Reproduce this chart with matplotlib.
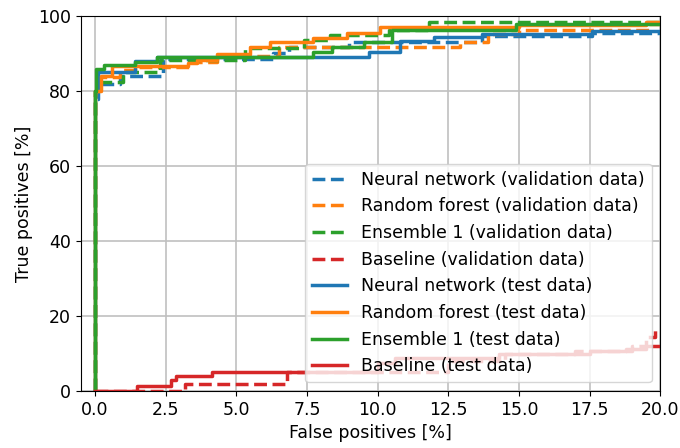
import numpy as np
import matplotlib
matplotlib.use("Agg")
import matplotlib.pyplot as plt

# ROC step curves (FPR %, TPR %), drawn as post-steps
nn_val_fpr = [0, 0, 0.1, 0.9, 2.4, 6.3, 6.85, 9.0, 13.7, 17.6, 20]
nn_val_tpr = [0, 78, 82, 84, 88.5, 90.2, 91.7, 93.2, 94.8, 95.4, 95.4]
rf_val_fpr = [0, 0, 0.15, 0.9, 1.4, 3.4, 4.3, 6.5, 12.9, 13.9, 15.0, 19.6, 20]
rf_val_tpr = [0, 80, 83.7, 85.6, 86.5, 87.8, 89.5, 91.8, 93.1, 95.3, 96.4, 98, 98]
ens_val_fpr = [0, 0, 0.1, 1.0, 2.3, 5.3, 7.4, 8.3, 10.4, 11.8, 20]
ens_val_tpr = [0, 80, 82.5, 85.2, 88.3, 91.6, 93.6, 95.1, 96.3, 98.5, 98.5]
base_val_fpr = [0, 3.2, 6.8, 12.5, 14.5, 17.0, 19.0, 19.5, 19.8, 20]
base_val_tpr = [0, 1.8, 5.1, 8.0, 9.8, 10.8, 12.0, 14.5, 16.3, 16.3]

nn_test_fpr = [0, 0, 0.1, 1.4, 2.2, 9.7, 10.8, 12.0, 13.7, 17.6, 20]
nn_test_tpr = [0, 80, 85, 88, 89.2, 90.5, 93.3, 94.5, 95.2, 96, 96]
rf_test_fpr = [0, 0, 0.2, 0.6, 3.3, 3.6, 4.3, 5.5, 6.2, 7.7, 8.9, 10.1, 15.0, 19.5, 20]
rf_test_tpr = [0, 80, 84, 86.7, 87.5, 88.3, 90, 91.8, 93.1, 94.3, 95.6, 97.2, 97.7, 98.5, 98.5]
ens_test_fpr = [0, 0, 0.05, 0.3, 1.4, 2.2, 7.7, 8.4, 9.5, 10.5, 14.9, 20]
ens_test_tpr = [0, 80, 86, 87, 87.9, 89.1, 90.5, 91.8, 93.1, 96.3, 97.9, 97.9]
base_test_fpr = [0, 1.5, 2.7, 2.85, 4.15, 10.0, 10.6, 14.3, 17.5, 18.8, 19.5, 20]
base_test_tpr = [0, 1.3, 2.9, 4.1, 5.2, 7.5, 8.8, 10.0, 10.7, 11.3, 12.0, 12.0]

curves = [
    (nn_val_fpr, nn_val_tpr, 'C0', '--', 'Neural network (validation data)'),
    (rf_val_fpr, rf_val_tpr, 'C1', '--', 'Random forest (validation data)'),
    (ens_val_fpr, ens_val_tpr, 'C2', '--', 'Ensemble 1 (validation data)'),
    (base_val_fpr, base_val_tpr, 'C3', '--', 'Baseline (validation data)'),
    (nn_test_fpr, nn_test_tpr, 'C0', '-', 'Neural network (test data)'),
    (rf_test_fpr, rf_test_tpr, 'C1', '-', 'Random forest (test data)'),
    (ens_test_fpr, ens_test_tpr, 'C2', '-', 'Ensemble 1 (test data)'),
    (base_test_fpr, base_test_tpr, 'C3', '-', 'Baseline (test data)'),
]

plt.rcParams['font.size'] = 12.5

fig, ax = plt.subplots(figsize=(6.8, 4.48), dpi=100)
fig.subplots_adjust(left=0.119, right=0.971, top=0.964, bottom=0.127)

for fpr, tpr, col, ls, lab in curves:
    ax.step(fpr, tpr, where='post', color=col, linestyle=ls, linewidth=2.5, label=lab)

ax.set_xlim(-0.5, 20)
ax.set_ylim(0, 100)
ax.set_xticks(np.arange(0, 20.1, 2.5))
ax.grid(True, color='#c0c0c0', linewidth=1.2)
ax.set_xlabel('False positives [%]')
ax.set_ylabel('True positives [%]')
ax.legend(loc='lower right')

plt.savefig('out.png', dpi=100)
plt.close()
